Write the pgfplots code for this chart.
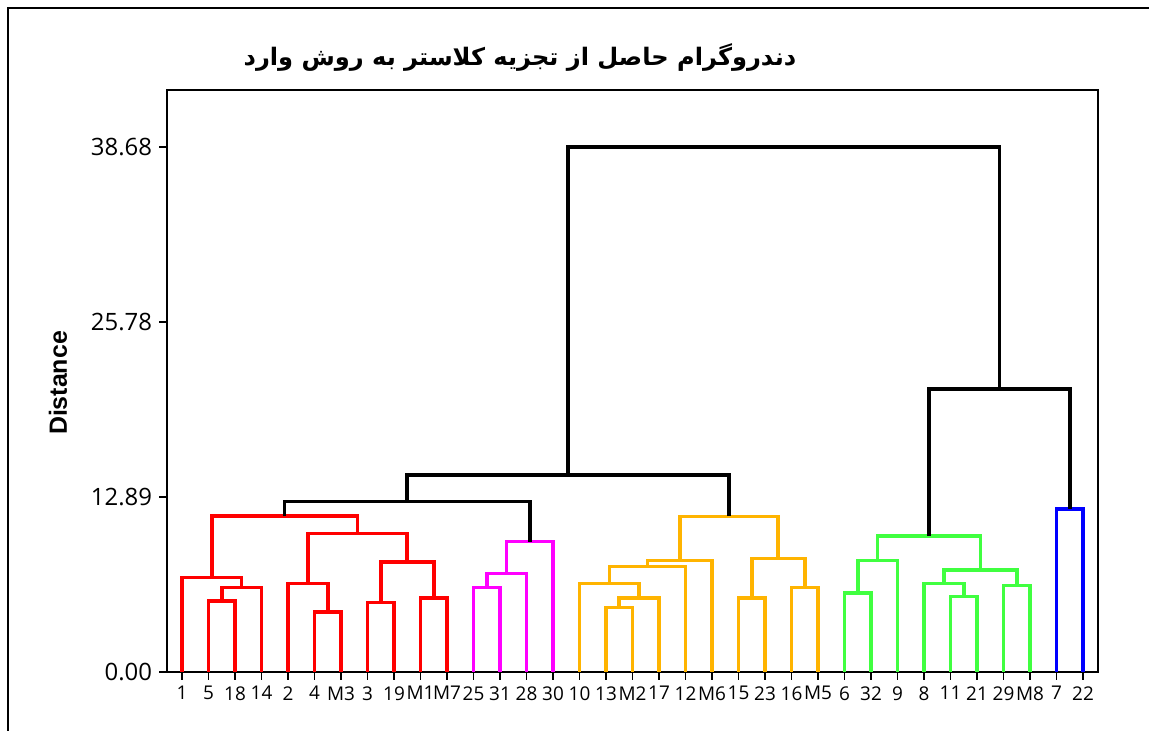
\documentclass[border=0pt]{standalone}
\usepackage{pgfplots}
\pgfplotsset{compat=1.18}
\usepackage{fontspec}
\setmainfont{Open Sans}
\newfontfamily\labfont{Liberation Sans}
\newfontfamily\arabicfont[Script=Arabic]{DejaVu Sans}
\TeXXeTstate=1
\definecolor{cred}{HTML}{FF0000}
\definecolor{cmag}{HTML}{FF00FF}
\definecolor{corg}{HTML}{FFB400}
\definecolor{cgrn}{HTML}{40FF40}
\definecolor{cblu}{HTML}{0000FF}
\begin{document}
\begin{tikzpicture}
\useasboundingbox (0,0) rectangle (574.5bp,365.5bp);
\fill[white] (0,0) rectangle (574.5bp,365.5bp);
\draw[line width=0.6bp] (4bp,-1bp) -- (4bp,361.5bp) -- (576bp,361.5bp);
\node[font=\arabicfont\bfseries\fontsize{12.1}{14}\selectfont] at (260bp,337bp) {\beginR دندروگرام حاصل از تجزیه کلاستر به روش وارد\endR};
\node[rotate=90, font=\labfont\bfseries\fontsize{12.5}{14}\selectfont] at (29bp,174bp) {Distance};
\begin{axis}[
  at={(83.5bp,29.5bp)}, anchor=south west,
  scale only axis, width=465.5bp, height=291bp,
  xmin=-0.566, xmax=34.566, ymin=0, ymax=42.88,
  axis line style={line width=1bp},
  tick style={black, line width=0.75bp},
  tick align=outside, major tick length=4bp,
  xtick pos=bottom, ytick pos=left,
  xtick={0,...,34},
  xticklabels={1,5,18,14,2,4,M3,3,19,M1,M7,25,31,28,30,10,13,M2,17,12,M6,15,23,16,M5,6,32,9,8,11,21,29,M8,7,22},
  ytick={0,12.89,25.78,38.68},
  yticklabels={0.00,12.89,25.78,38.68},
  xticklabel style={font=\fontsize{9.5}{10}\selectfont, inner sep=1.5bp, yshift=-1.5bp},
  yticklabel style={font=\fontsize{12}{13}\selectfont},
  every axis plot/.append style={line width=1.8bp, mark=none},
]
% red
\addplot[cred] coordinates {(1,0) (1,5.23) (2,5.23) (2,0)};
\addplot[cred] coordinates {(1.5,5.23) (1.5,6.24) (3,6.24) (3,0)};
\addplot[cred] coordinates {(0,0) (0,6.95) (2.25,6.95) (2.25,6.24)};
\addplot[cred] coordinates {(5,0) (5,4.44) (6,4.44) (6,0)};
\addplot[cred] coordinates {(4,0) (4,6.53) (5.5,6.53) (5.5,4.44)};
\addplot[cred] coordinates {(7,0) (7,5.11) (8,5.11) (8,0)};
\addplot[cred] coordinates {(9,0) (9,5.43) (10,5.43) (10,0)};
\addplot[cred] coordinates {(7.5,5.11) (7.5,8.10) (9.5,8.10) (9.5,5.43)};
\addplot[cred] coordinates {(4.75,6.53) (4.75,10.19) (8.5,10.19) (8.5,8.10)};
\addplot[cred] coordinates {(1.125,6.95) (1.125,11.49) (6.625,11.49) (6.625,10.19)};
% magenta
\addplot[cmag] coordinates {(11,0) (11,6.24) (12,6.24) (12,0)};
\addplot[cmag] coordinates {(11.5,6.24) (11.5,7.27) (13,7.27) (13,0)};
\addplot[cmag] coordinates {(12.25,7.27) (12.25,9.60) (14,9.60) (14,0)};
% orange
\addplot[corg] coordinates {(16,0) (16,4.74) (17,4.74) (17,0)};
\addplot[corg] coordinates {(16.5,4.74) (16.5,5.43) (18,5.43) (18,0)};
\addplot[corg] coordinates {(15,0) (15,6.53) (17.25,6.53) (17.25,5.43)};
\addplot[corg] coordinates {(16.125,6.53) (16.125,7.76) (19,7.76) (19,0)};
\addplot[corg] coordinates {(17.5625,7.76) (17.5625,8.20) (20,8.20) (20,0)};
\addplot[corg] coordinates {(21,0) (21,5.43) (22,5.43) (22,0)};
\addplot[corg] coordinates {(23,0) (23,6.24) (24,6.24) (24,0)};
\addplot[corg] coordinates {(21.5,5.43) (21.5,8.37) (23.5,8.37) (23.5,6.24)};
\addplot[corg] coordinates {(18.78125,8.20) (18.78125,11.47) (22.5,11.47) (22.5,8.37)};
% green
\addplot[cgrn] coordinates {(25,0) (25,5.82) (26,5.82) (26,0)};
\addplot[cgrn] coordinates {(25.5,5.82) (25.5,8.20) (27,8.20) (27,0)};
\addplot[cgrn] coordinates {(29,0) (29,5.55) (30,5.55) (30,0)};
\addplot[cgrn] coordinates {(28,0) (28,6.53) (29.5,6.53) (29.5,5.55)};
\addplot[cgrn] coordinates {(31,0) (31,6.36) (32,6.36) (32,0)};
\addplot[cgrn] coordinates {(28.75,6.53) (28.75,7.51) (31.5,7.51) (31.5,6.36)};
\addplot[cgrn] coordinates {(26.25,8.20) (26.25,10.04) (30.125,10.04) (30.125,7.51)};
% blue
\addplot[cblu] coordinates {(33,0) (33,11.99) (34,11.99) (34,0)};
% black
\addplot[black] coordinates {(3.875,11.49) (3.875,12.55) (13.125,12.55) (13.125,9.60)};
\addplot[black] coordinates {(8.5,12.55) (8.5,14.51) (20.640625,14.51) (20.640625,11.47)};
\addplot[black] coordinates {(28.1875,10.04) (28.1875,20.85) (33.5,20.85) (33.5,11.99)};
\addplot[black] coordinates {(14.5703125,14.51) (14.5703125,38.68) (30.84375,38.68) (30.84375,20.85)};
\end{axis}
\end{tikzpicture}
\end{document}
